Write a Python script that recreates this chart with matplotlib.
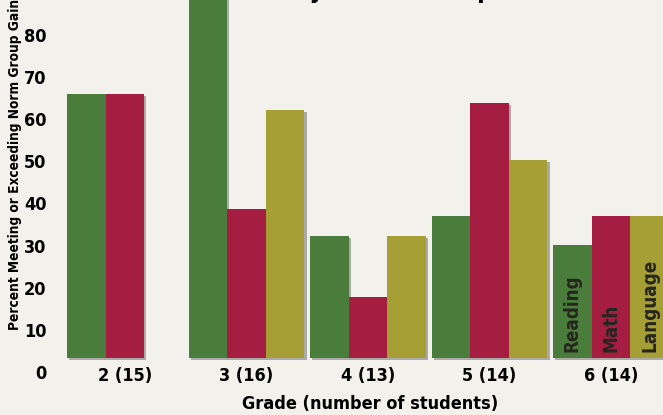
import numpy as np
import matplotlib
matplotlib.use('Agg')
import matplotlib.pyplot as plt
import matplotlib.patheffects as pe

plt.rcParams['font.family'] = ['Liberation Sans Narrow', 'DejaVu Sans']
plt.rcParams['font.stretch'] = 'condensed'
plt.rcParams['font.weight'] = 'bold'

# Percent of students meeting or exceeding norm group gains
grades = ['2 (15)', '3 (16)', '4 (13)', '5 (14)', '6 (14)']
reading = [66.7, 93.8, 30.8, 35.7, 28.6]
math = [66.7, 37.5, 15.4, 64.3, 35.7]
language = [np.nan, 62.5, 30.8, 50.0, 35.7]
subjects = ['Reading', 'Math', 'Language']
colors = ['#4a7c3b', '#a51e42', '#a59f36']
yticks = list(range(0, 90, 10))

bg = '#f2f1eb'
W, H = 663, 415
fig = plt.figure(figsize=(W / 100, H / 100), dpi=100, facecolor=bg)
# axes run from the top edge down to 385 px; bars start at 358 px
ax = fig.add_axes([55 / W, 30 / H, (W - 55) / W, (H - 30) / H])
ax.set_facecolor(bg)

x = np.arange(len(grades))
bw = 0.318
shadow = [pe.SimplePatchShadow(offset=(1.5, -1.5), shadow_rgbFace='#555555', alpha=0.45), pe.Normal()]
for k, (vals, c) in enumerate(zip([reading, math, language], colors)):
    bars = ax.bar(x + (k - 1) * bw, vals, width=bw, color=c, linewidth=0)
    for b in bars:
        b.set_path_effects(shadow)

# subject names written inside the last group of bars
for k, name in enumerate(subjects):
    ax.text(x[-1] + (k - 1) * bw, 1.5, name, rotation=90, ha='center', va='bottom',
            fontsize=13.5, color='#26261f', fontweight='bold')

ax.set_xlim(-0.576, 4.428)
ax.set_ylim(-27 / 3.965, 358 / 3.965)

# value labels on the left are spaced a little wider than the bars
def from_label(u):
    return (4.21 * np.asarray(u, dtype=float) - 13.8) / 3.965

ax.set_yticks(from_label(yticks), [str(t) for t in yticks])
ax.tick_params(axis='y', length=0, pad=6, labelsize=13)
ax.set_xticks(x, grades)
ax.tick_params(axis='x', length=0, pad=-13, labelsize=13)
for s in ax.spines.values():
    s.set_visible(False)

ax.set_xlabel('Grade (number of students)', fontsize=13, fontweight='bold')
ax.xaxis.set_label_coords(0.518, -0.049)
ax.xaxis.label.set_va('center')

fig.text(15 / W, 85 / H, 'Percent Meeting or Exceeding Norm Group Gains', rotation=90,
         ha='center', va='bottom', fontsize=9.8, fontweight='bold')

fig.text(343 / W, 1.005, 'Growth by Grade Group', ha='center', va='baseline',
         fontsize=18, fontweight='bold')

fig.savefig('out.png', dpi=100, facecolor=bg)
